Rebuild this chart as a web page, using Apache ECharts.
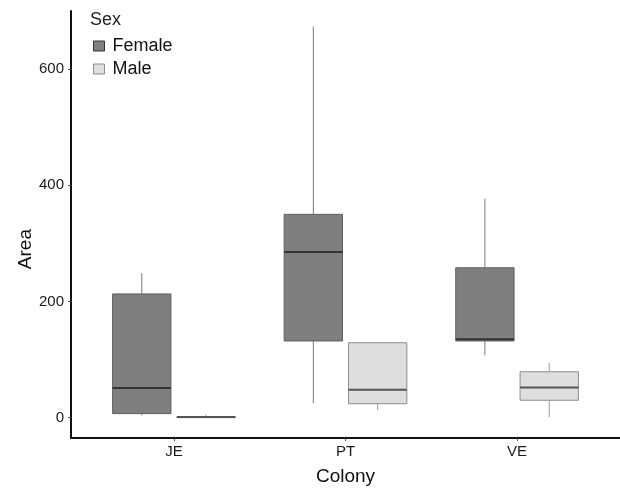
<!DOCTYPE html>
<html>
<head>
<meta charset="utf-8">
<script src="https://cdn.jsdelivr.net/npm/echarts@6/dist/echarts.min.js"></script>
<style>
html,body{margin:0;padding:0;background:#fff;}
#chart{width:620px;height:488px;}
</style>
</head>
<body>
<div id="chart"></div>
<script>
// Data
var categories = ['JE', 'PT', 'VE'];
var groups = ['Female', 'Male'];
// [min, q1, median, q3, max] per colony
var femaleStats = [[4, 7, 51, 213, 249], [25, 132, 285, 350, 673], [107, 132, 135, 258, 377]];
var maleStats = [[0, 0, 1, 2, 5], [13, 24, 48, 129, 129], [1, 30, 52, 79, 94]];
var yTicks = [0, 200, 400, 600];

var FONT = '"Liberation Sans", Arial, Helvetica, sans-serif';
var styles = {
  Female: { fill: '#7f7f7f', border: '#5f5f5f', median: '#333333', whisker: '#7a7a7a' },
  Male: { fill: '#dedede', border: '#8c8c8c', median: '#555555', whisker: '#999999' }
};
var dodge = 0.1875;
var boxW = 0.34;

function buildData(stats, offset) {
  return stats.map(function (s, i) { return [i + 1 + offset].concat(s); });
}

function makeRender(st) {
  return function (params, api) {
    var x = api.value(0);
    var mn = api.coord([x, api.value(1)]);
    var q1 = api.coord([x, api.value(2)]);
    var md = api.coord([x, api.value(3)]);
    var q3 = api.coord([x, api.value(4)]);
    var mx = api.coord([x, api.value(5)]);
    var w = api.size([boxW, 0])[0];
    var cx = q1[0];
    var children = [];
    children.push({ type: 'line', shape: { x1: cx, y1: q3[1], x2: cx, y2: mx[1] }, style: { stroke: st.whisker, lineWidth: 1 } });
    children.push({ type: 'line', shape: { x1: cx, y1: q1[1], x2: cx, y2: mn[1] }, style: { stroke: st.whisker, lineWidth: 1 } });
    children.push({ type: 'rect', shape: { x: cx - w / 2, y: q3[1], width: w, height: Math.max(q1[1] - q3[1], 1) }, style: { fill: st.fill, stroke: st.border, lineWidth: 1 } });
    children.push({ type: 'line', shape: { x1: cx - w / 2, y1: md[1], x2: cx + w / 2, y2: md[1] }, style: { stroke: st.median, lineWidth: 2 } });
    return { type: 'group', children: children };
  };
}

var chart = echarts.init(document.getElementById('chart'), null, { renderer: 'canvas' });
chart.setOption({
  animation: false,
  backgroundColor: '#ffffff',
  title: {
    text: 'Sex', left: 90, top: 11, padding: 0,
    textStyle: { fontFamily: FONT, fontSize: 18, fontWeight: 'normal', color: '#222' }
  },
  legend: {
    orient: 'vertical', left: 88, top: 32, itemWidth: 11, itemHeight: 10, itemGap: 5,
    textStyle: { fontFamily: FONT, fontSize: 18, color: '#111', padding: [0, 0, 0, 3] },
    data: [
      { name: 'Female', icon: 'rect', itemStyle: { color: styles.Female.fill, borderColor: styles.Female.median, borderWidth: 1 } },
      { name: 'Male', icon: 'rect', itemStyle: { color: styles.Male.fill, borderColor: styles.Male.border, borderWidth: 1 } }
    ]
  },
  grid: { left: 71, right: 0, top: 11, bottom: 50, containLabel: false, outerBoundsMode: 'none' },
  xAxis: {
    type: 'value', min: 0.4, max: 3.6,
    name: 'Colony', nameLocation: 'middle', nameGap: 29,
    nameTextStyle: { fontFamily: FONT, fontSize: 19, color: '#111' },
    axisLine: { show: true, onZero: false, lineStyle: { color: '#111', width: 2 } },
    axisTick: { show: true, length: 3, customValues: [1, 2, 3], lineStyle: { color: '#555' } },
    axisLabel: { customValues: [1, 2, 3], margin: 6, fontFamily: FONT, fontSize: 15, color: '#1a1a1a',
      formatter: function (v) { return categories[Math.round(v) - 1] || ''; } },
    splitLine: { show: false }
  },
  yAxis: {
    type: 'value', min: -35, max: 700,
    axisLine: { show: true, onZero: false, lineStyle: { color: '#111', width: 2 } },
    axisTick: { show: true, length: 3, customValues: yTicks, lineStyle: { color: '#555' } },
    axisLabel: { customValues: yTicks, margin: 7, fontFamily: FONT, fontSize: 15, color: '#1a1a1a' },
    splitLine: { show: false }
  },
  graphic: [{
    type: 'text', left: 16, top: 229, rotation: Math.PI / 2,
    style: { text: 'Area', fontFamily: FONT, fontSize: 19, fill: '#111' }
  }],
  series: [
    { name: 'Female', type: 'custom', itemStyle: { color: styles.Female.fill }, encode: { x: 0, y: [1, 2, 3, 4, 5] },
      renderItem: makeRender(styles.Female), data: buildData(femaleStats, -dodge) },
    { name: 'Male', type: 'custom', itemStyle: { color: styles.Male.fill }, encode: { x: 0, y: [1, 2, 3, 4, 5] },
      renderItem: makeRender(styles.Male), data: buildData(maleStats, dodge) }
  ]
});
</script>
</body>
</html>
